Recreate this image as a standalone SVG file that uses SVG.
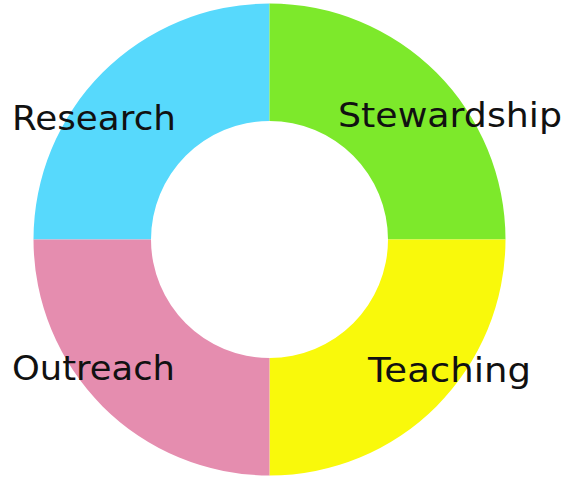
<svg xmlns="http://www.w3.org/2000/svg" width="564" height="479" viewBox="0 0 564 479">
<style>
.lbl{font-family:"DejaVu Sans","Noto Sans",sans-serif;font-size:33px;fill:#111111}
</style>
<rect width="564" height="479" fill="#ffffff"/>
<g id="research">
<path d="M 33.5 239.5 A 236 236 0 0 1 269.5 3.5 L 269.5 121 A 118.5 118.5 0 0 0 151 239.5 Z" fill="#57d9fc"/>
<text class="lbl" x="12" y="130" textLength="164" lengthAdjust="spacingAndGlyphs">Research</text>
</g>
<g id="stewardship">
<path d="M 269.5 3.5 A 236 236 0 0 1 505.5 239.5 L 388 239.5 A 118.5 118.5 0 0 0 269.5 121 Z" fill="#7de92b"/>
<text class="lbl" x="338" y="127" textLength="224" lengthAdjust="spacingAndGlyphs">Stewardship</text>
</g>
<g id="teaching">
<path d="M 505.5 239.5 A 236 236 0 0 1 269.5 475.5 L 269.5 358 A 118.5 118.5 0 0 0 388 239.5 Z" fill="#f9f90b"/>
<text class="lbl" x="368" y="381.5" textLength="163" lengthAdjust="spacingAndGlyphs">Teaching</text>
</g>
<g id="outreach">
<path d="M 269.5 475.5 A 236 236 0 0 1 33.5 239.5 L 151 239.5 A 118.5 118.5 0 0 0 269.5 358 Z" fill="#e58daf"/>
<text class="lbl" x="12" y="380" textLength="163" lengthAdjust="spacingAndGlyphs">Outreach</text>
</g>
<g id="connectors"/>
</svg>
